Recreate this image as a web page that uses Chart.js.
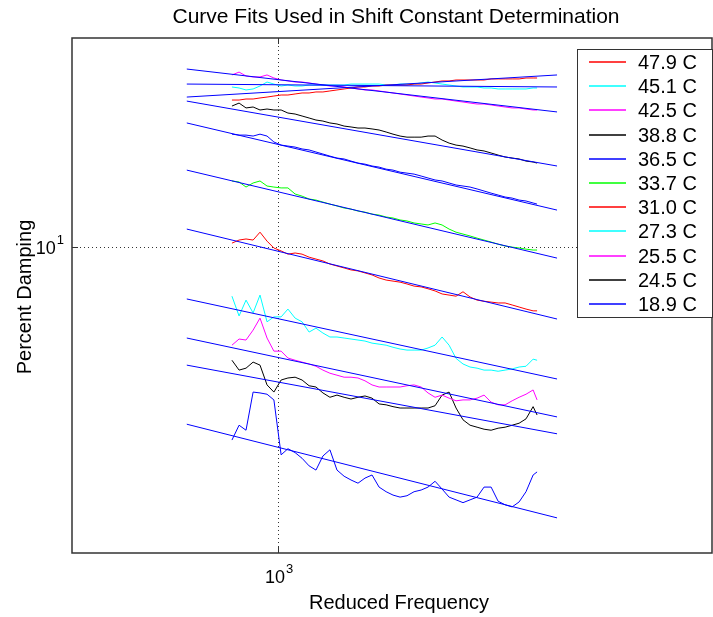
<!DOCTYPE html>
<html>
<head>
<meta charset="utf-8">
<script src="https://cdn.jsdelivr.net/npm/chart.js@4.4.1/dist/chart.umd.min.js"></script>
<style>
  html, body { margin: 0; padding: 0; background: #fff; }
  canvas { display: block; }
</style>
</head>
<body>
<canvas id="chart" width="713" height="617"></canvas>
<script>
// reduced frequency of the measured points (shared by every temperature)
const freq = [847, 869, 891, 914, 937, 961, 985, 1011, 1036, 1063, 1090, 1118, 1146, 1175, 1205,
  1236, 1268, 1300, 1333, 1367, 1402, 1438, 1475, 1512, 1551, 1590, 1631, 1673, 1715, 1759,
  1804, 1850, 1897, 1945, 1995, 2046, 2098, 2152, 2207, 2263, 2321, 2380, 2440, 2503, 2539];

// percent damping per temperature
const d479 = [19.30, 19.30, 19.39, 19.39, 19.48, 19.56, 19.65, 19.74, 19.74, 19.83, 19.92, 19.92, 20.01, 20.01, 20.10,
  20.19, 20.28, 20.37, 20.46, 20.46, 20.55, 20.55, 20.64, 20.64, 20.64, 20.64, 20.73, 20.73, 20.83, 20.92,
  21.02, 21.02, 21.11, 21.11, 21.11, 21.11, 21.11, 21.21, 21.21, 21.21, 21.21, 21.21, 21.30, 21.30, 21.30];
const d451 = [20.46, 20.37, 20.19, 20.28, 20.55, 20.92, 20.73, 20.55, 20.64, 20.55, 20.55, 20.64, 20.64, 20.64, 20.64,
  20.64, 20.64, 20.73, 20.73, 20.73, 20.73, 20.73, 20.64, 20.64, 20.73, 20.73, 20.73, 20.83, 20.92, 20.83,
  20.73, 20.64, 20.55, 20.46, 20.46, 20.46, 20.37, 20.37, 20.28, 20.28, 20.28, 20.28, 20.28, 20.37, 20.37];
const d425 = [21.59, 21.87, 21.49, 21.40, 21.40, 21.59, 21.30, 21.11, 21.02, 20.92, 20.92, 20.83, 20.73, 20.64, 20.55,
  20.55, 20.46, 20.37, 20.28, 20.19, 20.19, 20.10, 20.01, 19.92, 19.83, 19.74, 19.65, 19.56, 19.48, 19.39,
  19.39, 19.30, 19.21, 19.13, 19.04, 18.96, 18.96, 18.88, 18.79, 18.71, 18.63, 18.63, 18.54, 18.46, 18.46];
const d388 = [18.79, 19.04, 18.63, 18.71, 18.46, 18.54, 18.46, 18.46, 18.21, 18.13, 17.97, 17.81, 17.65, 17.57, 17.42,
  17.34, 17.18, 17.11, 17.03, 17.03, 16.96, 16.88, 16.73, 16.57, 16.43, 16.35, 16.35, 16.35, 16.43, 16.43,
  16.14, 15.92, 15.78, 15.71, 15.58, 15.44, 15.37, 15.23, 15.09, 14.96, 14.89, 14.83, 14.69, 14.63, 14.56];
const d365 = [16.57, 16.50, 16.50, 16.43, 16.57, 16.43, 16.00, 15.78, 15.71, 15.64, 15.51, 15.44, 15.30, 15.16, 15.02,
  14.89, 14.83, 14.69, 14.56, 14.49, 14.37, 14.30, 14.17, 14.11, 13.98, 13.92, 13.86, 13.74, 13.62, 13.50,
  13.44, 13.32, 13.20, 13.14, 13.08, 12.97, 12.85, 12.73, 12.62, 12.51, 12.45, 12.34, 12.29, 12.18, 12.12];
const d337 = [13.44, 13.38, 13.08, 13.32, 13.44, 13.14, 13.08, 13.03, 13.03, 12.68, 12.56, 12.40, 12.34, 12.23, 12.12,
  12.02, 11.91, 11.85, 11.75, 11.69, 11.59, 11.54, 11.44, 11.39, 11.29, 11.24, 11.14, 11.09, 11.04, 11.14,
  11.04, 10.84, 10.69, 10.60, 10.51, 10.41, 10.32, 10.23, 10.13, 10.05, 10.00, 9.96, 9.91, 9.87, 9.87];
const d310 = [10.18, 10.32, 10.37, 10.32, 10.69, 10.27, 9.96, 9.83, 9.69, 9.74, 9.69, 9.56, 9.48, 9.40, 9.27,
  9.19, 9.11, 9.03, 8.99, 8.91, 8.83, 8.71, 8.63, 8.59, 8.55, 8.48, 8.40, 8.37, 8.30, 8.22,
  8.11, 8.07, 8.03, 8.19, 8.00, 7.89, 7.85, 7.82, 7.79, 7.79, 7.72, 7.65, 7.58, 7.52, 7.52];
const d273 = [8.03, 7.35, 7.89, 7.45, 8.07, 7.16, 7.32, 7.32, 7.58, 7.28, 7.16, 6.84, 6.96, 6.81, 6.69,
  6.69, 6.66, 6.63, 6.60, 6.57, 6.51, 6.48, 6.45, 6.39, 6.34, 6.31, 6.31, 6.31, 6.37, 6.45,
  6.69, 6.45, 6.08, 5.93, 5.85, 5.82, 5.77, 5.77, 5.74, 5.77, 5.80, 5.85, 5.87, 6.06, 6.03];
const d255 = [6.45, 6.63, 6.60, 6.90, 7.28, 6.66, 6.28, 6.28, 6.09, 6.03, 5.98, 5.93, 5.87, 5.77, 5.69,
  5.64, 5.59, 5.59, 5.57, 5.50, 5.40, 5.35, 5.35, 5.35, 5.35, 5.38, 5.40, 5.35, 5.21, 5.11,
  5.16, 5.09, 5.03, 5.05, 5.05, 5.09, 5.16, 5.00, 4.94, 4.94, 5.03, 5.11, 5.18, 5.28, 5.05];
const d245 = [6.03, 5.77, 5.82, 5.98, 5.90, 5.40, 5.23, 5.52, 5.57, 5.59, 5.52, 5.38, 5.35, 5.21, 5.11,
  5.16, 5.11, 5.07, 5.11, 5.14, 5.09, 4.96, 4.94, 4.90, 4.87, 4.87, 4.87, 4.87, 4.87, 4.92,
  5.16, 5.23, 4.87, 4.62, 4.51, 4.47, 4.43, 4.41, 4.45, 4.47, 4.51, 4.55, 4.64, 4.90, 4.72];
const d189 = [4.22, 4.51, 4.41, 5.23, 5.21, 5.18, 5.05, 3.95, 4.06, 3.99, 3.89, 3.76, 3.69, 3.93, 4.04,
  3.69, 3.59, 3.53, 3.48, 3.56, 3.61, 3.42, 3.35, 3.30, 3.27, 3.29, 3.35, 3.375, 3.42, 3.51,
  3.39, 3.27, 3.23, 3.19, 3.23, 3.27, 3.42, 3.42, 3.21, 3.16, 3.13, 3.20, 3.35, 3.61, 3.66];

// power-law curve fits, end points
const fitFreq = [720, 2728];
const fit479 = [19.56, 21.59];
const fit451 = [20.73, 20.46];
const fit425 = [22.17, 18.30];
const fit388 = [19.21, 14.37];
const fit365 = [17.42, 11.80];
const fit337 = [14.11, 9.52];
const fit310 = [10.84, 7.25];
const fit273 = [7.93, 5.545];
const fit255 = [6.66, 4.68];
const fit245 = [5.90, 4.34];
const fit189 = [4.53, 2.98];

const labels = ['47.9 C', '45.1 C', '42.5 C', '38.8 C', '36.5 C', '33.7 C', '31.0 C', '27.3 C', '25.5 C', '24.5 C', '18.9 C'];
const xTicks = [1000];
const yTicks = [10];

const series = [d479, d451, d425, d388, d365, d337, d310, d273, d255, d245, d189];
const fits = [fit479, fit451, fit425, fit388, fit365, fit337, fit310, fit273, fit255, fit245, fit189];
const lineColors = ['#ff0000', '#00ffff', '#ff00ff', '#000000', '#0000ff', '#00ff00',
  '#ff0000', '#00ffff', '#ff00ff', '#000000', '#0000ff'];

const FONT = '"Liberation Sans", Arial, Helvetica, sans-serif';

let datasets = [];
for (let i = 0; i < series.length; i++) {
    datasets.push({
        label: labels[i],
        data: series[i].map((v, k) => ({x: freq[k], y: v})),
        borderColor: lineColors[i],
        borderWidth: 1,
        pointRadius: 0,
        order: 2,
    });
}
for (let i = 0; i < fits.length; i++) {
    datasets.push({
        label: 'fit ' + labels[i],
        data: fits[i].map((v, k) => ({x: fitFreq[k], y: v})),
        borderColor: '#0000ff',
        borderWidth: 1,
        pointRadius: 0,
        order: 1,
    });
}

// draws "10" with a raised exponent, left edge at x0
function drawPow(ctx, exp, x0, base) {
    ctx.font = '18px ' + FONT;
    let wb = ctx.measureText('10').width;
    ctx.fillText('10', x0, base);
    ctx.font = '13px ' + FONT;
    ctx.fillText(exp, x0 + wb + 1, base - 10);
}
function powWidth(ctx, exp) {
    ctx.font = '18px ' + FONT;
    let wb = ctx.measureText('10').width;
    ctx.font = '13px ' + FONT;
    return wb + 1 + ctx.measureText(exp).width;
}

const decor = {
    id: 'decor',
    beforeDatasetsDraw(chart) {
        const {ctx, chartArea: a, scales: {x, y}} = chart;
        ctx.save();
        ctx.strokeStyle = '#333';
        ctx.lineWidth = 1;
        ctx.setLineDash([1, 3]);
        xTicks.forEach(v => {
            let px = Math.round(x.getPixelForValue(v)) + 0.5;
            ctx.beginPath(); ctx.moveTo(px, a.top); ctx.lineTo(px, a.bottom); ctx.stroke();
        });
        yTicks.forEach(v => {
            let py = Math.round(y.getPixelForValue(v)) + 0.5;
            ctx.beginPath(); ctx.moveTo(a.left, py); ctx.lineTo(a.right, py); ctx.stroke();
        });
        ctx.restore();
    },
    afterDraw(chart) {
        const {ctx, chartArea: a, scales: {x, y}} = chart;
        ctx.save();

        // axes box + tick marks
        ctx.strokeStyle = '#333';
        ctx.lineWidth = 1.5;
        ctx.strokeRect(a.left, a.top, a.right - a.left, a.bottom - a.top);
        ctx.lineWidth = 1;
        xTicks.forEach(v => {
            let px = Math.round(x.getPixelForValue(v)) + 0.5;
            ctx.beginPath();
            ctx.moveTo(px, a.bottom); ctx.lineTo(px, a.bottom - 6);
            ctx.moveTo(px, a.top); ctx.lineTo(px, a.top + 6);
            ctx.stroke();
        });
        yTicks.forEach(v => {
            let py = Math.round(y.getPixelForValue(v)) + 0.5;
            ctx.beginPath();
            ctx.moveTo(a.left, py); ctx.lineTo(a.left + 6, py);
            ctx.moveTo(a.right, py); ctx.lineTo(a.right - 6, py);
            ctx.stroke();
        });

        // tick labels
        ctx.fillStyle = '#000';
        ctx.textBaseline = 'alphabetic';
        ctx.textAlign = 'left';
        xTicks.forEach(v => {
            let exp = String(Math.round(Math.log10(v)));
            let w = powWidth(ctx, exp);
            drawPow(ctx, exp, x.getPixelForValue(v) - w / 2 + 1, 583);
        });
        yTicks.forEach(v => {
            let exp = String(Math.round(Math.log10(v)));
            let w = powWidth(ctx, exp);
            drawPow(ctx, exp, a.left - 8 - w, y.getPixelForValue(v) + 7);
        });

        // titles
        ctx.textAlign = 'center';
        ctx.font = '21px ' + FONT;
        ctx.fillText('Curve Fits Used in Shift Constant Determination', 396, 23);
        ctx.font = '20px ' + FONT;
        ctx.fillText('Reduced Frequency', 399, 609);
        ctx.save();
        ctx.translate(31, 297);
        ctx.rotate(-Math.PI / 2);
        ctx.fillText('Percent Damping', 0, 0);
        ctx.restore();

        // legend
        let lx = 577, ly = 49, lw = a.right - lx, lh = 268;
        ctx.fillStyle = '#fff';
        ctx.fillRect(lx, ly, lw, lh);
        ctx.strokeStyle = '#333';
        ctx.lineWidth = 1;
        ctx.strokeRect(lx + 0.5, ly + 0.5, lw, lh);
        ctx.textAlign = 'left';
        ctx.textBaseline = 'middle';
        ctx.font = '20px ' + FONT;
        ctx.lineWidth = 1.4;
        for (let i = 0; i < labels.length; i++) {
            let yy = Math.round(62 + i * 24.2);
            ctx.strokeStyle = lineColors[i];
            ctx.beginPath(); ctx.moveTo(589, yy); ctx.lineTo(626, yy); ctx.stroke();
            ctx.fillStyle = '#000';
            ctx.fillText(labels[i], 638, yy + 1);
        }
        ctx.restore();
    }
};

new Chart(document.getElementById('chart'), {
    type: 'line',
    data: {datasets},
    options: {
        responsive: false,
        animation: false,
        devicePixelRatio: 1,
        layout: {padding: {top: 38, right: 1, left: 0, bottom: 0}},
        plugins: {legend: {display: false}, title: {display: false}, tooltip: {enabled: false}},
        elements: {line: {tension: 0}},
        scales: {
            x: {
                type: 'logarithmic', min: 476.4, max: 4764,
                grid: {display: false}, border: {display: false}, ticks: {display: false},
                afterFit: s => { s.height = 64; },
            },
            y: {
                type: 'logarithmic', min: 2.547, max: 25.47,
                grid: {display: false}, border: {display: false}, ticks: {display: false},
                afterFit: s => { s.width = 72; },
            },
        },
    },
    plugins: [decor],
});
</script>
</body>
</html>
